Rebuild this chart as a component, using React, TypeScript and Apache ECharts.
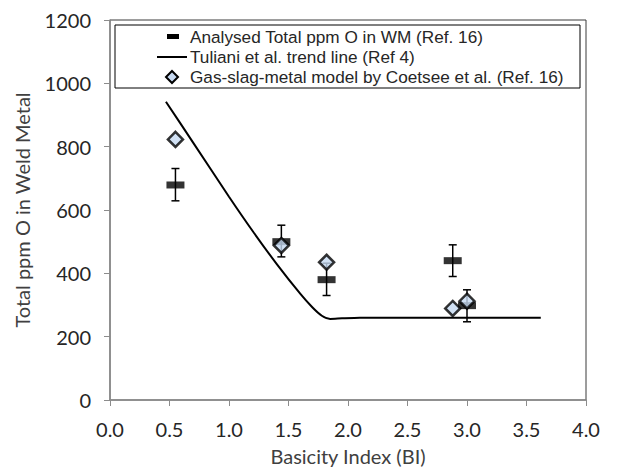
import React, { useEffect, useRef } from "react";
import * as echarts from "echarts";

// Analysed total ppm O in weld metal (Ref. 16) with error bars
const analysedX = [0.55, 1.44, 1.82, 2.88, 3.0];
const analysedY = [679, 500, 380, 440, 298];
const analysedLow = [629, 452, 330, 390, 247];
const analysedHigh = [731, 552, 432, 490, 348];

// Tuliani et al. trend line (Ref 4)
const trendX = [0.47, 0.7, 1.0, 1.2, 1.4, 1.6, 1.7, 1.78, 1.85, 1.95, 2.1, 3.62];
const trendY = [942, 812, 642, 533, 430, 335, 293, 266, 256, 258, 260, 260];

// Gas-slag-metal model by Coetsee et al. (Ref. 16)
const modelX = [0.55, 1.44, 1.82, 2.88, 3.0];
const modelY = [823, 488, 435, 289, 312];

const legendLabels = [
  "Analysed Total ppm O in WM (Ref. 16)",
  "Tuliani et al. trend line (Ref 4)",
  "Gas-slag-metal model by Coetsee et al. (Ref. 16)",
];

const FONT = "Lato, 'Open Sans', sans-serif";
const LEG_FONT = "'Liberation Sans', Arial, sans-serif";

export default function App() {
  const ref = useRef<HTMLDivElement>(null);
  useEffect(() => {
    if (!ref.current) return;
    const chart = echarts.init(ref.current, undefined, { renderer: "svg" });
    const errData = analysedX.map((x, i) => [x, analysedLow[i], analysedHigh[i]]);
    const option: any = {
      animation: false,
      backgroundColor: "#fff",
      grid: {
        left: 110,
        right: 39,
        top: 20,
        bottom: 67,
        show: true,
        borderColor: "#3a3a3a",
        borderWidth: 1,
      },
      xAxis: {
        type: "value",
        min: 0,
        max: 4,
        interval: 0.5,
        name: "Basicity Index (BI)",
        nameLocation: "middle",
        nameGap: 46,
        nameTextStyle: { fontFamily: FONT, fontSize: 20, color: "#404040" },
        axisLine: { show: true, lineStyle: { color: "#8c8c8c", width: 1.5 } },
        axisTick: { show: true, inside: false, length: 6, lineStyle: { color: "#8c8c8c" } },
        axisLabel: {
          fontFamily: FONT,
          fontSize: 20,
          color: "#262626",
          margin: 19,
          formatter: (v: number) => v.toFixed(1),
        },
        splitLine: { show: false },
      },
      yAxis: {
        type: "value",
        min: 0,
        max: 1200,
        interval: 200,
        name: "Total ppm O in Weld Metal",
        nameLocation: "middle",
        nameGap: 78,
        nameTextStyle: { fontFamily: FONT, fontSize: 20, color: "#404040" },
        axisLine: { show: true, lineStyle: { color: "#8c8c8c", width: 1.5 } },
        axisTick: { show: true, inside: false, length: 6, lineStyle: { color: "#8c8c8c" } },
        axisLabel: {
          fontFamily: FONT,
          fontSize: 20,
          color: "#262626",
          margin: 19,
          formatter: (v: number) => String(v),
        },
        splitLine: { show: false },
      },
      series: [
        {
          name: legendLabels[1],
          type: "line",
          data: trendX.map((x, i) => [x, trendY[i]]),
          smooth: 0.25,
          symbol: "none",
          lineStyle: { color: "#000", width: 2 },
          z: 2,
        },
        {
          name: "error",
          type: "custom",
          data: errData,
          z: 3,
          renderItem: (params: any, api: any) => {
            const x = api.value(0);
            const lo = api.coord([x, api.value(1)]);
            const hi = api.coord([x, api.value(2)]);
            const cap = 4;
            const st = { stroke: "#000", lineWidth: 1.5 };
            return {
              type: "group",
              children: [
                { type: "line", shape: { x1: lo[0], y1: lo[1], x2: hi[0], y2: hi[1] }, style: st },
                { type: "line", shape: { x1: lo[0] - cap, y1: lo[1], x2: lo[0] + cap, y2: lo[1] }, style: st },
                { type: "line", shape: { x1: hi[0] - cap, y1: hi[1], x2: hi[0] + cap, y2: hi[1] }, style: st },
              ],
            };
          },
        },
        {
          name: legendLabels[0],
          type: "scatter",
          data: analysedX.map((x, i) => [x, analysedY[i]]),
          symbol: "rect",
          symbolSize: [18, 7],
          itemStyle: { color: "#000" },
          z: 4,
        },
        {
          name: legendLabels[2],
          type: "scatter",
          data: modelX.map((x, i) => [x, modelY[i]]),
          symbol: "diamond",
          symbolSize: 15,
          itemStyle: { color: "#c6d9f1", borderColor: "#000", borderWidth: 2.5 },
          z: 5,
        },
      ],
      graphic: [
        {
          type: "rect",
          shape: { x: 115, y: 25, width: 465, height: 63 },
          style: { fill: "#fff", stroke: "#000", lineWidth: 1 },
          z: 10,
        },
        {
          type: "rect",
          shape: { x: 167, y: 34, width: 12, height: 5 },
          style: { fill: "#000" },
          z: 11,
        },
        {
          type: "line",
          shape: { x1: 157, y1: 57, x2: 187, y2: 57 },
          style: { stroke: "#000", lineWidth: 2 },
          z: 11,
        },
        {
          type: "polygon",
          shape: { points: [[172, 71], [178, 77], [172, 83], [166, 77]] },
          style: { fill: "#c6d9f1", stroke: "#000", lineWidth: 2 },
          z: 11,
        },
        ...legendLabels.map((t, i) => ({
          type: "text",
          x: 190,
          y: 37 + i * 20,
          z: 11,
          style: {
            text: t,
            fontFamily: LEG_FONT,
            fontSize: 17.2,
            lineHeight: 18,
            fill: "#262626",
            verticalAlign: "middle",
          },
        })),
      ],
    };
    chart.setOption(option);
    return () => chart.dispose();
  }, []);
  return (
    <div
      ref={ref}
      style={{ position: "fixed", left: 0, top: 0, width: 625, height: 471 }}
    />
  );
}
